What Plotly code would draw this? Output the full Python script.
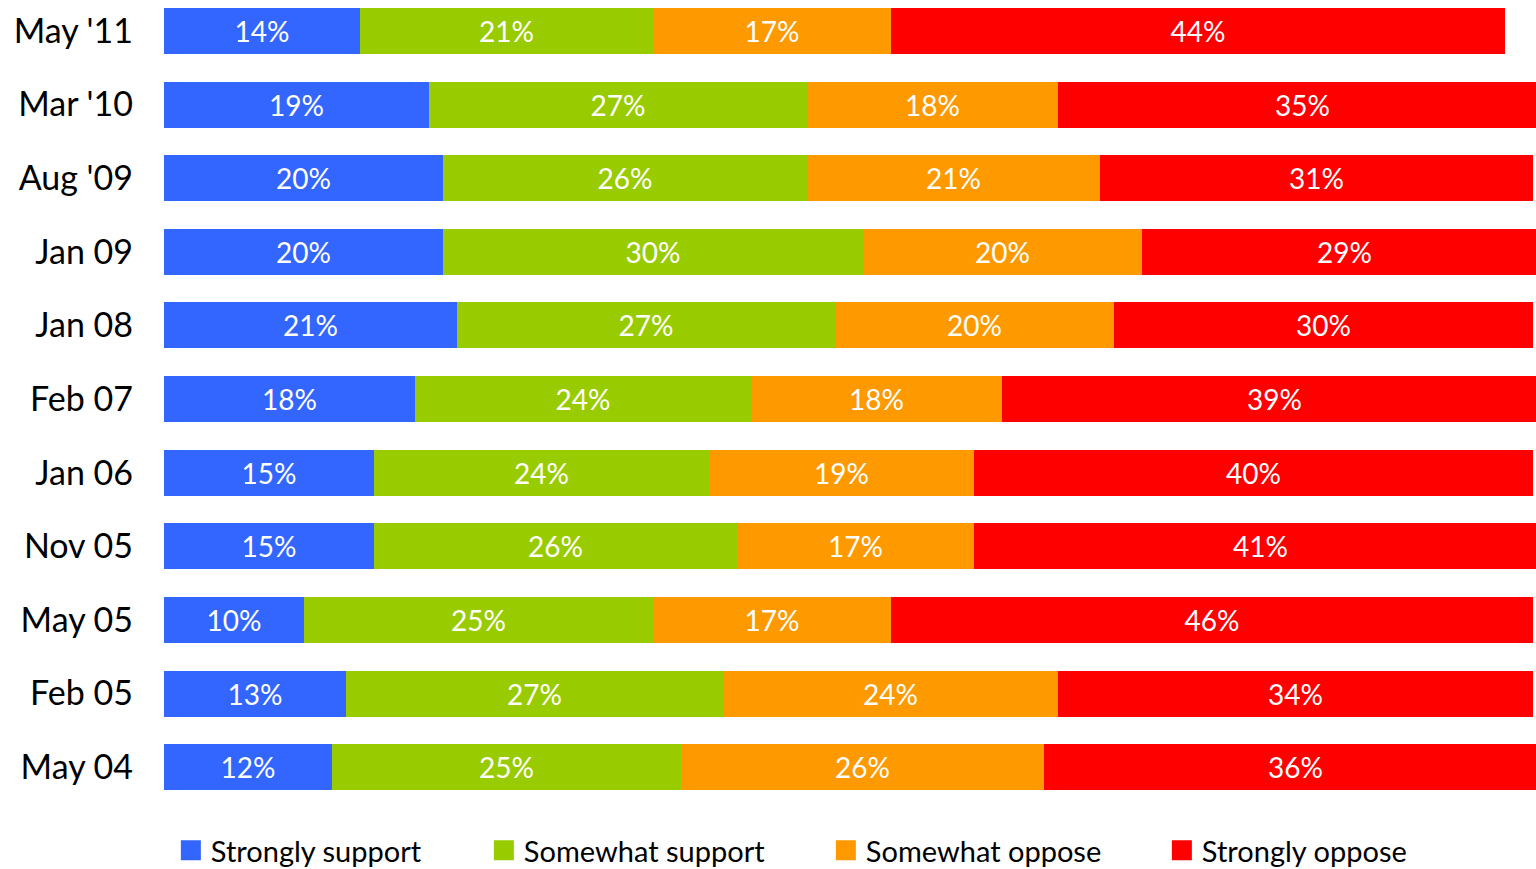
import plotly.graph_objects as go

categories = ["May '11", "Mar '10", "Aug '09", "Jan 09", "Jan 08", "Feb 07",
              "Jan 06", "Nov 05", "May 05", "Feb 05", "May 04"]
strongly_support = [14, 19, 20, 20, 21, 18, 15, 15, 10, 13, 12]
somewhat_support = [21, 27, 26, 30, 27, 24, 24, 26, 25, 27, 25]
somewhat_oppose = [17, 18, 21, 20, 20, 18, 19, 17, 17, 24, 26]
strongly_oppose = [44, 35, 31, 29, 30, 39, 40, 41, 46, 34, 36]

series_names = ["Strongly support", "Somewhat support", "Somewhat oppose", "Strongly oppose"]
series_values = [strongly_support, somewhat_support, somewhat_oppose, strongly_oppose]
colors = ["#3366FF", "#99CC00", "#FF9900", "#FF0000"]
legend_widths = [268, 297, 291, 200]

FONT = "Lato"

fig = go.Figure()
for name, vals, col in zip(series_names, series_values, colors):
    fig.add_trace(go.Bar(
        y=categories, x=vals, orientation="h", name=name,
        marker=dict(color=col, line=dict(width=0)),
        text=[f"{v}%" for v in vals], textposition="inside",
        insidetextanchor="middle", textangle=0,
        textfont=dict(color="white", size=28, family=FONT),
        showlegend=False, width=0.625,
    ))
for name, col, lw in zip(series_names, colors, legend_widths):
    fig.add_trace(go.Scatter(
        x=[None], y=[None], mode="markers", name=name,
        marker=dict(symbol="square", size=16, color=col,
                    line=dict(width=4, color=col)),
        legendwidth=lw,
    ))

fig.update_layout(
    width=1536, height=869,
    barmode="stack", bargap=0,
    margin=dict(l=164, r=0, t=0, b=65, autoexpand=False),
    plot_bgcolor="white", paper_bgcolor="white",
    xaxis=dict(range=[0, 98.2], showgrid=False, showticklabels=False,
               zeroline=False, showline=False, fixedrange=True, automargin=False),
    yaxis=dict(categoryorder="array", categoryarray=categories[::-1],
               range=[-0.5, 10.42], showgrid=False, zeroline=False,
               showline=False, ticks="", ticklabelstandoff=30, automargin=False,
               tickfont=dict(size=34, family=FONT, color="black")),
    legend=dict(orientation="h", x=0.005, xanchor="left", y=-0.026, yanchor="top",
                traceorder="normal",
                font=dict(size=29, family=FONT, color="black"),
                itemclick=False),
    uniformtext=dict(mode=False),
)

fig.write_html("out.html", config={"displayModeBar": False},
               post_script="document.body.style.margin='0';document.body.style.overflow='hidden';")
